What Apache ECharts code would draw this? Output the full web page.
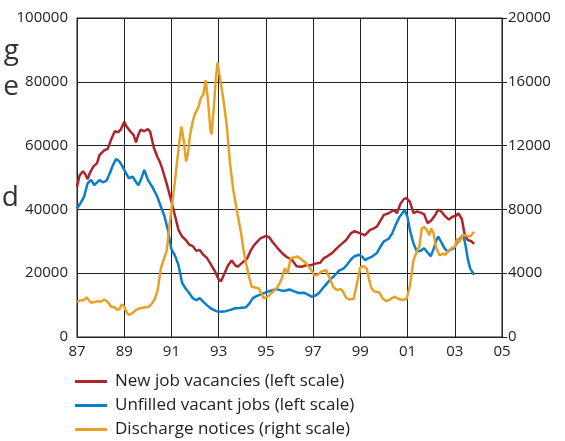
<!DOCTYPE html>
<html>
<head>
<meta charset="utf-8">
<script src="https://cdn.jsdelivr.net/npm/echarts@6/dist/echarts.min.js"></script>
<style>
	html, body { margin: 0; padding: 0; background: #fff; }
	#chart { width: 565px; height: 441px; }
</style>
</head>
<body>
<div id="chart"></div>
<script>
'use strict';

// 新增职位空缺 (left scale)
var vacYears = [1987.0, 1987.1, 1987.25, 1987.35, 1987.45, 1987.55, 1987.7, 1987.85, 1987.95, 1988.15,
	1988.3, 1988.45, 1988.6, 1988.75, 1988.85, 1989.0, 1989.1, 1989.25, 1989.4, 1989.5,
	1989.6, 1989.7, 1989.85, 1990.0, 1990.1, 1990.25, 1990.4, 1990.5, 1990.6, 1990.8,
	1991.0, 1991.15, 1991.3, 1991.45, 1991.6, 1991.75, 1991.9, 1992.05, 1992.2, 1992.35,
	1992.5, 1992.65, 1992.85, 1993.0, 1993.1, 1993.25, 1993.4, 1993.55, 1993.7, 1993.8,
	1994.0, 1994.2, 1994.35, 1994.5, 1994.75, 1995.0, 1995.15, 1995.3, 1995.5, 1995.7,
	1995.9, 1996.1, 1996.3, 1996.5, 1996.7, 1996.9, 1997.1, 1997.3, 1997.45, 1997.6,
	1997.8, 1998.0, 1998.15, 1998.4, 1998.6, 1998.75, 1999.0, 1999.2, 1999.4, 1999.55,
	1999.7, 1999.85, 2000.0, 2000.2, 2000.35, 2000.45, 2000.55, 2000.7, 2000.85, 2000.95,
	2001.1, 2001.25, 2001.4, 2001.55, 2001.7, 2001.85, 2002.0, 2002.15, 2002.3, 2002.45,
	2002.6, 2002.75, 2002.9, 2003.05, 2003.15, 2003.3, 2003.42, 2003.55, 2003.7, 2003.82];
var vacValues = [47000, 50500, 52000, 51000, 49500, 51500, 53500, 54500, 57000, 58500,
	59000, 62000, 64500, 64200, 65000, 67500, 66000, 64500, 63300, 61000,
	63500, 65000, 64500, 65200, 64300, 59500, 56500, 55000, 53000, 48000,
	42500, 38000, 33500, 31500, 30500, 29000, 28500, 27000, 27300, 25800,
	24800, 23000, 20500, 18000, 17500, 20000, 22500, 24000, 22500, 22000,
	23300, 24500, 27000, 28800, 30800, 31700, 31200, 29600, 27800, 26200,
	25000, 24200, 22200, 22000, 22500, 22500, 23000, 23300, 24700, 25300,
	26300, 27800, 28800, 30400, 32500, 33200, 32500, 31900, 33500, 34000,
	34600, 36500, 38300, 38800, 39500, 39700, 38800, 41800, 43300, 43500,
	42400, 38800, 39400, 39000, 38500, 35700, 36500, 38000, 40000, 39200,
	37800, 36800, 37700, 38000, 38800, 37000, 32000, 30400, 30000, 29200];

// 未填补空缺 (left scale)
var unfYears = [1987.0, 1987.15, 1987.3, 1987.45, 1987.6, 1987.73, 1987.85, 1987.95, 1988.1, 1988.25,
	1988.4, 1988.5, 1988.65, 1988.8, 1988.9, 1989.0, 1989.2, 1989.35, 1989.5, 1989.6,
	1989.7, 1989.85, 1990.0, 1990.2, 1990.4, 1990.55, 1990.7, 1990.85, 1991.0, 1991.15,
	1991.3, 1991.45, 1991.6, 1991.75, 1991.9, 1992.05, 1992.2, 1992.35, 1992.5, 1992.7,
	1992.9, 1993.1, 1993.3, 1993.5, 1993.7, 1993.9, 1994.15, 1994.3, 1994.45, 1994.6,
	1994.8, 1995.0, 1995.2, 1995.45, 1995.6, 1995.75, 1996.0, 1996.2, 1996.4, 1996.6,
	1996.8, 1996.95, 1997.1, 1997.25, 1997.4, 1997.55, 1997.75, 1997.9, 1998.1, 1998.3,
	1998.45, 1998.6, 1998.75, 1998.95, 1999.1, 1999.2, 1999.35, 1999.5, 1999.7, 1999.85,
	2000.0, 2000.2, 2000.35, 2000.5, 2000.65, 2000.8, 2000.88, 2001.0, 2001.1, 2001.25,
	2001.4, 2001.55, 2001.7, 2001.85, 2001.98, 2002.1, 2002.2, 2002.3, 2002.42, 2002.55,
	2002.7, 2002.85, 2002.95, 2003.1, 2003.25, 2003.35, 2003.45, 2003.55, 2003.65, 2003.82];
var unfValues = [40300, 42000, 44000, 48200, 49200, 47600, 48500, 49200, 48500, 49000,
	51500, 53500, 55800, 55000, 53800, 52400, 49700, 50300, 48600, 47600,
	49200, 52400, 49300, 46900, 44000, 40900, 38000, 33500, 27500, 25500,
	22500, 17000, 15200, 13800, 12200, 11500, 12200, 11000, 10000, 8800,
	8100, 7900, 8100, 8500, 9000, 9100, 9300, 10500, 12200, 12800,
	13400, 14000, 14500, 15000, 14700, 14400, 14900, 14300, 13800, 13900,
	13200, 12600, 13000, 13800, 15200, 16500, 18200, 19200, 20800, 21500,
	22800, 24300, 25300, 25800, 25000, 24100, 24700, 25200, 26300, 28300,
	30000, 30800, 32500, 35200, 37500, 39000, 39800, 37500, 33500, 29300,
	26800, 27000, 27800, 26500, 25300, 27500, 30000, 31500, 29800, 28000,
	26700, 27500, 27800, 29500, 31000, 32000, 29000, 24500, 21500, 19500];

// 裁员通知 (right scale)
var disYears = [1987.0, 1987.15, 1987.3, 1987.4, 1987.5, 1987.6, 1987.75, 1987.9, 1988.0, 1988.15,
	1988.3, 1988.45, 1988.6, 1988.7, 1988.8, 1988.9, 1989.0, 1989.1, 1989.2, 1989.35,
	1989.5, 1989.65, 1989.85, 1990.05, 1990.2, 1990.3, 1990.42, 1990.55, 1990.68, 1990.8,
	1990.9, 1991.0, 1991.15, 1991.3, 1991.42, 1991.52, 1991.62, 1991.7, 1991.78, 1991.9,
	1992.0, 1992.14, 1992.25, 1992.35, 1992.45, 1992.55, 1992.65, 1992.7, 1992.8, 1992.88,
	1992.95, 1993.05, 1993.2, 1993.34, 1993.48, 1993.62, 1993.8, 1993.95, 1994.05, 1994.18,
	1994.3, 1994.4, 1994.55, 1994.7, 1994.9, 1995.05, 1995.2, 1995.35, 1995.5, 1995.65,
	1995.8, 1995.92, 1996.05, 1996.2, 1996.35, 1996.5, 1996.7, 1996.9, 1997.05, 1997.2,
	1997.35, 1997.55, 1997.7, 1997.85, 1998.0, 1998.15, 1998.25, 1998.4, 1998.55, 1998.72,
	1998.85, 1999.0, 1999.12, 1999.27, 1999.37, 1999.47, 1999.6, 1999.8, 1999.95, 2000.1,
	2000.25, 2000.45, 2000.6, 2000.8, 2000.96, 2001.1, 2001.25, 2001.4, 2001.5, 2001.6,
	2001.7, 2001.82, 2001.92, 2002.0, 2002.1, 2002.2, 2002.35, 2002.5, 2002.6, 2002.75,
	2002.9, 2003.0, 2003.1, 2003.2, 2003.35, 2003.5, 2003.65, 2003.82];
var disValues = [2200, 2300, 2300, 2500, 2300, 2150, 2200, 2250, 2200, 2350,
	2200, 1900, 1850, 1700, 1750, 2050, 1900, 1550, 1380, 1500,
	1700, 1800, 1850, 1900, 2150, 2400, 2950, 4300, 4900, 5400,
	6800, 8000, 9800, 11800, 13200, 12300, 11000, 11500, 12600, 13500,
	14000, 14400, 15000, 15200, 16100, 14800, 13000, 12700, 14500, 16200,
	17200, 16300, 14900, 13300, 10900, 9200, 7700, 6500, 5460, 4500,
	3700, 3150, 3100, 3050, 2430, 2500, 2700, 2900, 3150, 3570,
	4310, 3990, 4940, 5000, 5050, 4870, 4620, 4250, 3850, 3900,
	4100, 4200, 3700, 3150, 2950, 3000, 2900, 2450, 2350, 2400,
	3300, 4350, 4450, 4300, 3600, 3050, 2850, 2800, 2400, 2250,
	2350, 2530, 2400, 2320, 2400, 3200, 4800, 5400, 5650, 6800,
	6900, 6700, 6380, 6800, 6500, 5660, 5120, 5230, 5150, 5440,
	5600, 5650, 6170, 5960, 6400, 6350, 6300, 6600];

var seriesNames = ['New job vacancies (left scale)', 'Unfilled vacant jobs (left scale)', 'Discharge notices (right scale)'];
var seriesColors = ['#ab262d', '#0a7ec6', '#e8a126'];

// 页面左侧被截断的正文字母
var cutLetters = ['g', 'e', 'd'];


/**
 * 把年份与数值合并成点
 * @param {Array} xs
 * @param {Array} ys
 * @return {Array}
 */
function zip(xs, ys){
	return xs.map(function(x, i){ return [x, ys[i]]; });
}


(function(){
	var font = '"Open Sans", "DejaVu Sans", sans-serif',
			ink = '#222',
			plain = function(v){ return String(v); },
			label = { color: ink, fontSize: 15, fontFamily: font },
			split = { show: true, lineStyle: { color: ink, width: 1 } },
			letterY = [55, 91, 202];

	var option = {
		animation: false,
		textStyle: { fontFamily: font },
		grid: { left: 77, right: 63, top: 18, bottom: 104, show: true, borderColor: ink, borderWidth: 1 },
		legend: {
			orient: 'vertical', left: 75, top: 371, padding: 0,
			icon: 'rect', itemWidth: 32, itemHeight: 3, itemGap: 3,
			textStyle: { color: ink, fontSize: 17, lineHeight: 21, fontFamily: font, padding: [0, 0, 0, 3] },
			data: seriesNames,
		},
		xAxis: {
			type: 'value', min: 1987, max: 2005, interval: 2,
			axisLine: { lineStyle: { color: ink } },
			axisTick: { show: false },
			axisLabel: Object.assign({ margin: 7, formatter: function(v){
				var s = String(v % 100); return s.length < 2 ? '0' + s : s;
			} }, label),
			splitLine: split,
		},
		yAxis: [
			{
				type: 'value', min: 0, max: 100000, interval: 20000,
				axisLine: { show: true, lineStyle: { color: ink } },
				axisTick: { show: false },
				axisLabel: Object.assign({ margin: 9, formatter: plain }, label),
				splitLine: split,
			},
			{
				type: 'value', min: 0, max: 20000, interval: 4000, position: 'right',
				axisLine: { show: true, lineStyle: { color: ink } },
				axisTick: { show: true, length: 5, lineStyle: { color: ink } },
				axisLabel: Object.assign({ margin: 6, formatter: plain }, label),
				splitLine: { show: false },
			},
		],
		series: [
			{ name: seriesNames[0], type: 'line', yAxisIndex: 0, data: zip(vacYears, vacValues) },
			{ name: seriesNames[1], type: 'line', yAxisIndex: 0, data: zip(unfYears, unfValues) },
			{ name: seriesNames[2], type: 'line', yAxisIndex: 1, data: zip(disYears, disValues) },
		].map(function(s, i){
			s.showSymbol = false;
			s.symbol = 'none';
			s.color = seriesColors[i];
			s.lineStyle = { width: 2.5, color: seriesColors[i] };
			return s;
		}),
		graphic: cutLetters.map(function(ch, i){
			return {
				type: 'text', right: 546, top: letterY[i] - 18,
				style: { text: ch, fill: '#333', font: '28px ' + font },
			};
		}),
	};

	echarts.init(document.getElementById('chart')).setOption(option);
})();
</script>
</body>
</html>
